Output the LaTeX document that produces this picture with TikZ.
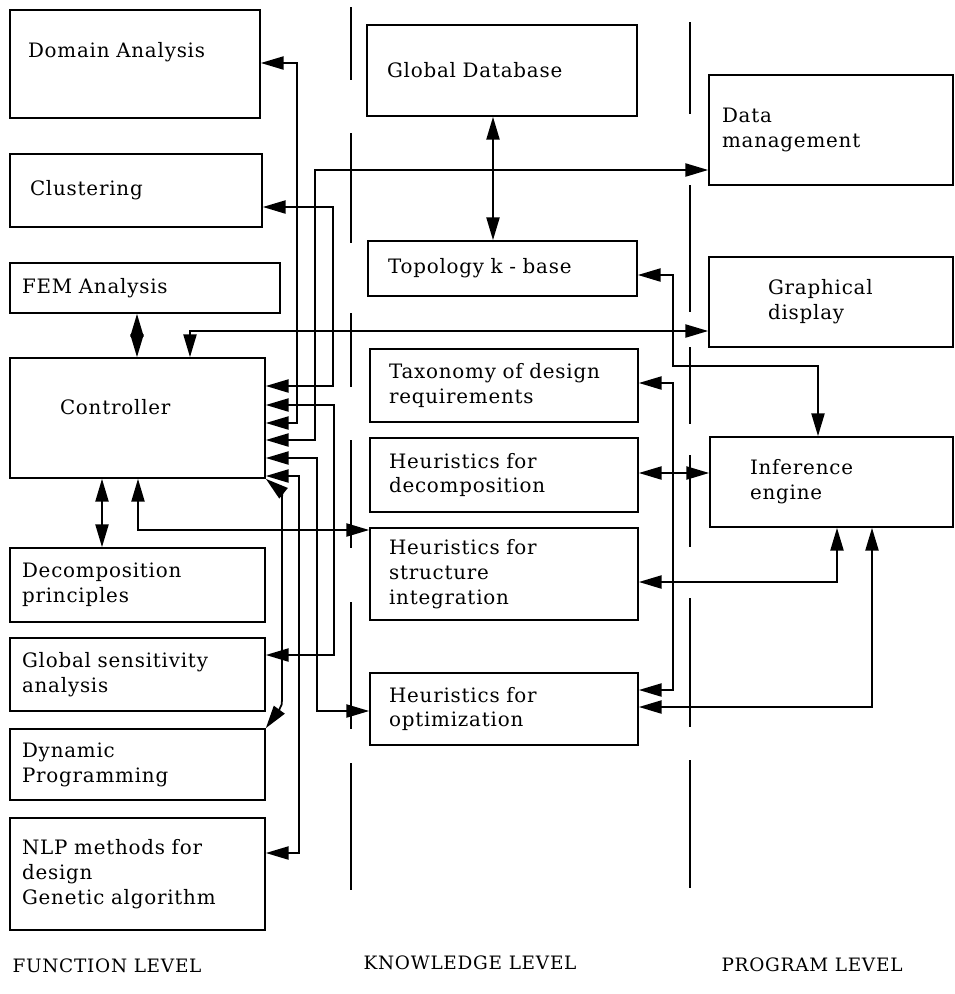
\documentclass[tikz,border=0pt]{standalone}
\usepackage{fontspec}
\setmainfont{DejaVu Serif}[LetterSpace=4]
\usetikzlibrary{arrows.meta}

\tikzset{
  blk/.style={draw, line width=1pt, align=left, inner sep=0pt},
  lvl/.style={font=\fontsize{10.5}{12}\selectfont},
}

\begin{document}
\begin{tikzpicture}[x=0.02cm, y=-0.02cm, line width=1pt,
    >={Triangle[length=13pt,width=7.5pt]}, font=\fontsize{11.3}{14.2}\selectfont]

    \useasboundingbox (0,0) rectangle (955,994);

    % level dividers
    \foreach \a/\b in {7/80,133/243,313/387,440/548,602/729,763/890}
        \draw (351,\a) -- (351,\b);
    \foreach \a/\b in {22/114,185/312,347/424,455/547,598/727,760/888}
        \draw (690,\a) -- (690,\b);

    % function level
    \node[blk, minimum width=5cm, text width=4.28cm, minimum height=2.16cm, text depth=16pt] (dom) at (135,64) {Domain Analysis};
    \node[blk, minimum width=5.04cm, text width=4.24cm, minimum height=1.46cm] (clu) at (136,190.5) {Clustering};
    \node[blk, minimum width=5.4cm, text width=4.92cm, minimum height=1cm] (fem) at (145,288) {FEM Analysis};
    \node[blk, minimum width=5.1cm, text width=3.1cm, minimum height=2.4cm, text depth=13pt] (ctl) at (137.5,418) {Controller};
    \node[blk, minimum width=5.1cm, text width=4.62cm, minimum height=1.48cm] (dcp) at (137.5,585) {Decomposition\\principles};
    \node[blk, minimum width=5.1cm, text width=4.62cm, minimum height=1.46cm] (gsa) at (137.5,674.5) {Global sensitivity\\analysis};
    \node[blk, minimum width=5.1cm, text width=4.62cm, minimum height=1.42cm] (dyn) at (137.5,764.5) {Dynamic\\Programming};
    \node[blk, minimum width=5.1cm, text width=4.62cm, minimum height=2.24cm] (nlp) at (137.5,874) {NLP methods for\\design\\Genetic algorithm};

    % knowledge level
    \node[blk, minimum width=5.4cm, text width=4.6cm, minimum height=1.82cm] (gdb) at (502,70.5) {Global Database};
    \node[blk, minimum width=5.38cm, text width=4.58cm, minimum height=1.1cm] (top) at (502.5,268.5) {Topology k - base};
    \node[blk, minimum width=5.36cm, text width=4.6cm, minimum height=1.46cm] (tax) at (504,385.5) {Taxonomy of design\\requirements};
    \node[blk, minimum width=5.36cm, text width=4.6cm, minimum height=1.48cm] (hdc) at (504,475) {Heuristics for\\decomposition};
    \node[blk, minimum width=5.36cm, text width=4.6cm, minimum height=1.84cm] (hsi) at (504,574) {Heuristics for\\structure\\integration};
    \node[blk, minimum width=5.36cm, text width=4.6cm, minimum height=1.44cm] (hop) at (504,709) {Heuristics for\\optimization};

    % program level
    \node[blk, minimum width=4.88cm, text width=4.36cm, minimum height=2.2cm] (dat) at (831,130) {Data\\management};
    \node[blk, minimum width=4.88cm, text width=2.52cm, minimum height=1.8cm] (gra) at (831,302) {Graphical\\display};
    \node[blk, minimum width=4.86cm, text width=3.26cm, minimum height=1.8cm] (inf) at (831.5,482) {Inference\\engine};

    \node[lvl] (flv) at (107,966) {FUNCTION LEVEL};
    \node[lvl] (klv) at (470,963) {KNOWLEDGE LEVEL};
    \node[lvl] (plv) at (812,965) {PROGRAM LEVEL};

    % links to the controller
    \draw[<->] (dom.east |- 0,63) -| (297,423) -- (ctl.east |- 0,423);
    \draw[<->] (clu.east |- 0,207) -| (333,386) -- (ctl.east |- 0,386);
    \draw[<->] (dat.west |- 0,170) -| (315,440) -- (ctl.east |- 0,440);
    \draw[<->] (ctl.east |- 0,405) -| (334,655) -- (gsa.east |- 0,655);
    \draw[<->] (ctl.east |- 0,458) -| (317,711) -- (hop.west |- 0,711);
    \draw[<->] (ctl.east |- 0,476) -| (299,853) -- (nlp.east |- 0,853);
    \draw[<->] (ctl.south east) .. controls (282,492) .. (282,515) -- (282,690) .. controls (282,706) .. (dyn.north east);
    \draw[<->] (ctl.south -| 138,0) -- (138,530) -- (hsi.west |- 0,530);
    \draw[<->] (ctl.south -| 102,0) -- (dcp.north -| 102,0);
    \draw[<->] (fem.south -| 137,0) -- (ctl.north -| 137,0);
    \draw[<->] (ctl.north -| 190,0) -- (190,331) -- (gra.west |- 0,331);

    % knowledge base and inference engine
    \draw[<->] (gdb.south -| 493,0) -- (top.north -| 493,0);
    \draw[<->] (top.east |- 0,275) -| (673,366) -| (inf.north -| 818,0);
    \draw[<->] (tax.east |- 0,383) -| (673,690) -- (hop.east |- 0,690);
    \draw[<->] (hdc.east |- 0,473) -- (inf.west |- 0,473);
    \draw[<->] (hsi.east |- 0,582) -| (inf.south -| 837,0);
    \draw[<->] (hop.east |- 0,707) -| (inf.south -| 872,0);

\end{tikzpicture}
\end{document}
